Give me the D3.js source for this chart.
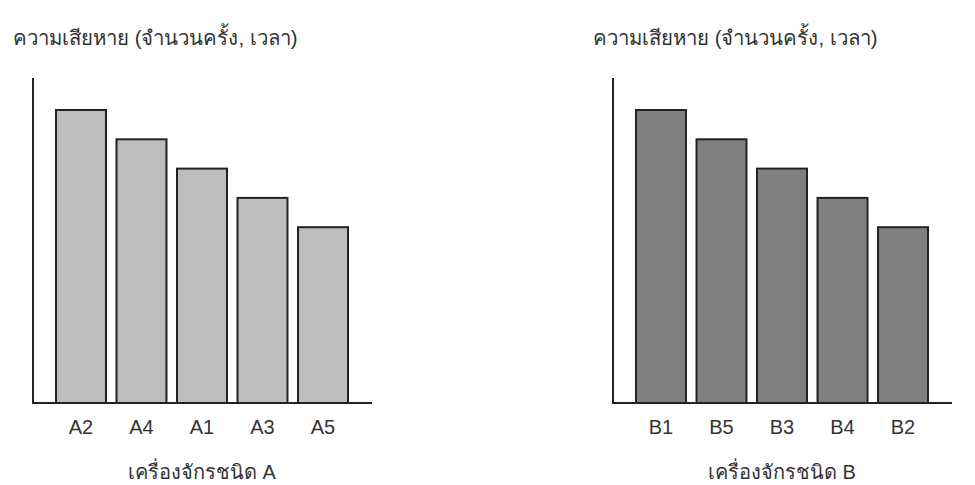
<!DOCTYPE html>
<html><head><meta charset="utf-8">
<script src="https://cdn.jsdelivr.net/npm/d3@7"></script>
<style>
html,body{margin:0;padding:0;background:#fff;}
text{font-family:"Liberation Sans","Noto Sans",sans-serif;fill:#333;}
</style></head>
<body><svg id="c" width="975" height="485"></svg>
<script>
const yTitle = "ความเสียหาย (จำนวนครั้ง, เวลา)";
const categoriesA = ["A2","A4","A1","A3","A5"];
const valuesA = [10, 9, 8, 7, 6];
const xTitleA = "เครื่องจักรชนิด A";
const categoriesB = ["B1","B5","B3","B4","B2"];
const valuesB = [10, 9, 8, 7, 6];
const xTitleB = "เครื่องจักรชนิด B";
const yMax = 11;

const svg = d3.select("#c");

function panel(ox, cats, vals, xTitle, fill) {
  const g = svg.append("g").attr("transform", `translate(${ox},0)`);
  const axisX = 33, baseY = 403, topY = 80.7;
  const x = d3.scaleBand().domain(cats).range([56, 348]).paddingInner(0.174).paddingOuter(0);
  const y = d3.scaleLinear().domain([0, yMax]).range([baseY, topY]);

  g.append("text").attr("x", 13).attr("y", 45).attr("font-size", 20.4).text(yTitle);

  g.selectAll("rect.bar").data(vals).join("rect").attr("class","bar")
    .attr("x", (d,i) => x(cats[i]))
    .attr("y", d => y(d))
    .attr("width", x.bandwidth())
    .attr("height", d => baseY - y(d))
    .attr("fill", fill).attr("stroke", "#222").attr("stroke-width", 2);

  g.append("line").attr("x1", axisX).attr("x2", axisX).attr("y1", 78).attr("y2", baseY)
    .attr("stroke", "#222").attr("stroke-width", 2);
  g.append("line").attr("x1", axisX - 1).attr("x2", 372).attr("y1", baseY).attr("y2", baseY)
    .attr("stroke", "#222").attr("stroke-width", 2);

  g.selectAll("text.tick").data(cats).join("text").attr("class","tick")
    .attr("x", d => x(d) + x.bandwidth()/2).attr("y", 434)
    .attr("text-anchor", "middle").attr("font-size", 20).text(d => d);

  g.append("text").attr("x", (56 + 348) / 2).attr("y", 479)
    .attr("text-anchor", "middle").attr("font-size", 20).text(xTitle);
}

panel(0, categoriesA, valuesA, xTitleA, "#bdbdbd");
panel(580, categoriesB, valuesB, xTitleB, "#808080");
</script></body></html>
